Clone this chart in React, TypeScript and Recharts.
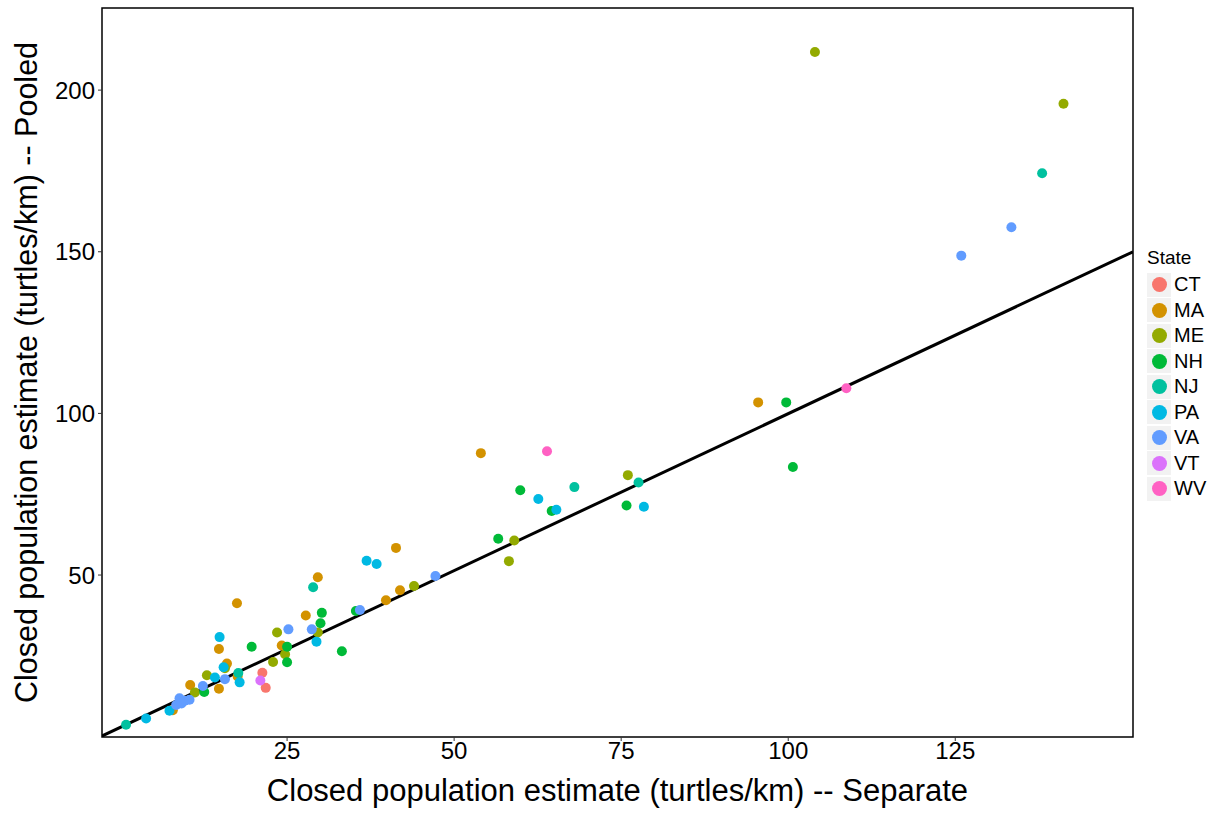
import React from "react";
import {
  ScatterChart,
  Scatter,
  XAxis,
  YAxis,
  ReferenceArea,
} from "recharts";

// [separate, pooled] pairs, one array per state
const CT = [[21.3, 19.8], [21.8, 15.1]];
const MA = [
  [7.9, 8.2], [10.5, 16.0], [14.8, 14.8], [14.8, 27.1], [17.5, 41.3],
  [16.0, 22.6], [17.6, 18.6], [24.2, 28.2], [27.8, 37.5], [29.6, 49.3],
  [39.8, 42.2], [41.3, 58.4], [41.9, 45.3], [54.0, 87.7], [95.5, 103.4],
];
const ME = [
  [11.2, 13.7], [13.0, 19.0], [15.7, 21.2], [22.9, 23.1], [23.5, 32.2],
  [24.7, 25.5], [29.6, 32.2], [44.0, 46.6], [58.2, 54.3], [59.0, 60.7],
  [76.0, 80.9], [104.0, 211.8], [141.2, 195.8],
];
const NH = [
  [12.6, 13.8], [19.7, 27.8], [25.0, 27.8], [25.0, 23.0], [30.0, 35.1],
  [30.2, 38.3], [33.2, 26.4], [35.3, 38.9], [56.6, 61.2], [59.9, 76.2],
  [64.6, 69.8], [75.8, 71.5], [99.7, 103.4], [100.7, 83.4],
];
const NJ = [
  [0.9, 3.7], [17.7, 19.7], [28.9, 46.2], [68.0, 77.2], [77.6, 78.6],
  [138.0, 174.3],
];
const PA = [
  [3.9, 5.6], [7.4, 8.0], [14.2, 18.3], [14.9, 30.8], [15.5, 21.5],
  [17.9, 16.8], [29.4, 29.4], [36.9, 54.4], [38.4, 53.4], [62.6, 73.5],
  [65.3, 70.2], [78.4, 71.1],
];
const VA = [
  [8.4, 9.8], [8.9, 11.9], [9.2, 10.3], [9.7, 11.1], [10.4, 11.4],
  [12.4, 15.7], [15.7, 17.8], [25.2, 33.2], [28.7, 33.2], [35.9, 39.2],
  [47.2, 49.7], [125.9, 148.8], [133.4, 157.6],
];
const VT = [[21.0, 17.4]];
const WV = [[63.9, 88.3], [108.7, 107.8]];

const states = ["CT", "MA", "ME", "NH", "NJ", "PA", "VA", "VT", "WV"];
const stateData = [CT, MA, ME, NH, NJ, PA, VA, VT, WV];
const colors = [
  "#F8766D", "#D39200", "#93AA00", "#00BA38", "#00C19F",
  "#00B9E3", "#619CFF", "#DB72FB", "#FF61C3",
];

// fitted line end points
const fitLine = [[-2.7, 0.2], [151.6, 150.0]];

const xDomain = [-2.7, 151.6];
const yDomain = [-0.1, 225.4];
const xTicks = [25, 50, 75, 100, 125];
const yTicks = [50, 100, 150, 200];

const FONT = "'Liberation Sans', Arial, sans-serif";

const toPoints = (arr: number[][]) => arr.map(([x, y]) => ({ x, y }));

const XTitle = (props: any) => {
  const vb = props.viewBox;
  return (
    <text
      x={vb.x + vb.width / 2}
      y={801}
      textAnchor="middle"
      fontFamily={FONT}
      fontSize={31}
      fill="#000"
    >
      Closed population estimate (turtles/km) -- Separate
    </text>
  );
};

const YTitle = (props: any) => {
  const vb = props.viewBox;
  const cy = vb.y + vb.height / 2;
  return (
    <text
      x={37}
      y={cy}
      transform={`rotate(-90, 37, ${cy})`}
      textAnchor="middle"
      fontFamily={FONT}
      fontSize={30.5}
      fill="#000"
    >
      Closed population estimate (turtles/km) -- Pooled
    </text>
  );
};

export default function App() {
  return (
    <div style={{ position: "absolute", left: 0, top: 0, width: 1229, height: 814, background: "#fff" }}>
      <ScatterChart
        width={1229}
        height={814}
        margin={{ top: 8, right: 96, bottom: 0, left: 0 }}
      >
        <XAxis
          type="number"
          dataKey="x"
          domain={xDomain}
          ticks={xTicks}
          allowDataOverflow
          height={77}
          axisLine={false}
          tickLine={{ stroke: "#333" }}
          tickSize={4}
          tickMargin={1}
          tick={{ fontSize: 24, fill: "#000", fontFamily: FONT }}
          label={<XTitle />}
        />
        <YAxis
          type="number"
          dataKey="y"
          domain={yDomain}
          ticks={yTicks}
          allowDataOverflow
          width={102}
          axisLine={false}
          tickLine={{ stroke: "#333" }}
          tickSize={4}
          tickMargin={3}
          tick={{ fontSize: 24, fill: "#000", fontFamily: FONT }}
          label={<YTitle />}
        />
        <Scatter
          data={toPoints(fitLine)}
          line={{ stroke: "#000", strokeWidth: 3 }}
          shape={() => <g />}
          isAnimationActive={false}
        />
        {states.map((s, i) => (
          <Scatter
            key={s}
            name={s}
            data={toPoints(stateData[i])}
            isAnimationActive={false}
            shape={(p: any) => <circle cx={p.cx} cy={p.cy} r={5} fill={colors[i]} />}
          />
        ))}
        <ReferenceArea
          x1={xDomain[0]}
          x2={xDomain[1]}
          y1={yDomain[0]}
          y2={yDomain[1]}
          fill="none"
          stroke="#000"
          strokeWidth={1.5}
        />
      </ScatterChart>
      <div
        style={{
          position: "absolute",
          left: 1147,
          top: 245,
          fontFamily: FONT,
          color: "#000",
        }}
      >
        <div style={{ fontSize: 19, height: 27, lineHeight: "25px" }}>State</div>
        {states.map((s, i) => (
          <div key={s} style={{ display: "flex", alignItems: "center", height: 25.5 }}>
            <div
              style={{
                width: 24,
                height: 24,
                background: "#F2F2F2",
                display: "flex",
                alignItems: "center",
                justifyContent: "center",
              }}
            >
              <div style={{ width: 15, height: 15, borderRadius: 7.5, background: colors[i] }} />
            </div>
            <span style={{ fontSize: 20, marginLeft: 3 }}>{s}</span>
          </div>
        ))}
      </div>
    </div>
  );
}
